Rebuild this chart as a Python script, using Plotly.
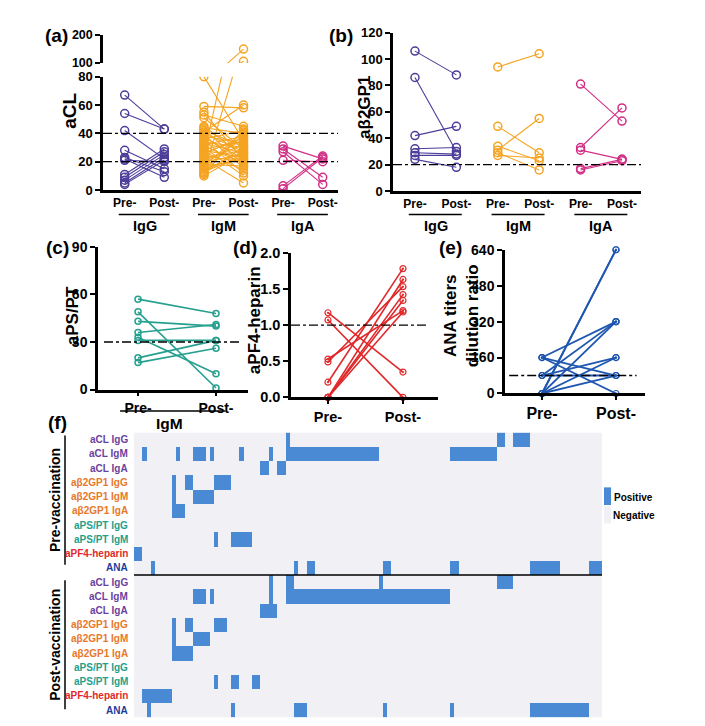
import plotly.graph_objects as go

W, H = 705, 726
FONT = "Liberation Sans, Arial, Helvetica, sans-serif"

# ---------------- data ----------------
groups = ["IgG", "IgM", "IgA"]
prepost = ["Pre-", "Post-"]

# (a) aCL
acl_igg_pre = [67, 54, 42, 28, 23, 22, 21, 11, 9, 7, 5, 4]
acl_igg_post = [43, 43, 22, 15, 13, 9, 20, 29, 27, 25, 23, 21]
acl_igm_pre = [80, 59, 55, 53, 51, 45, 44, 43, 42, 41, 40, 39, 38, 37, 36, 35, 34, 33, 32, 31, 30,
               29, 28, 27, 26, 25, 24, 23, 22, 21, 20, 19, 18, 17, 16, 15, 14, 13, 12, 11, 10, 12]
acl_igm_post = [35, 58, 21, 45, 29, 24, 40, 18, 31, 60, 27, 16, 33, 22, 42, 12, 30, 26, 38, 19, 10,
                34, 23, 14, 37, 149, 20, 28, 5, 32, 25, 36, 17, 41, 22, 39, 27, 24, 30, 43, 26, 106]
acl_iga_pre = [31, 29, 27, 21, 3, 1]
acl_iga_post = [22, 9, 4, 20, 24, 23]
acl_cutoffs = [40, 20]

# (b) aβ2GP1
b2_igg_pre = [106, 86, 42, 32, 29, 27, 24]
b2_igg_post = [88, 30, 49, 33, 28, 27, 18]
b2_igm_pre = [94, 49, 34, 31, 29, 27]
b2_igm_post = [104, 29, 23, 55, 16, 25]
b2_iga_pre = [81, 33, 31, 17, 16]
b2_iga_post = [53, 63, 24, 24, 23]
b2_cutoff = 20

# (c) aPS/PT IgM
ps_pre = [57, 49, 43, 36, 33, 31, 20, 17]
ps_post = [48, 1, 40, 41, 10, 31, 31, 26]
ps_cutoff = 30

# (d) aPF4-heparin
pf4_pre = [1.17, 1.07, 0.53, 0.49, 0.21, 0.0, 0.0, 0.0, 0.0]
pf4_post = [0.35, 0.0, 1.20, 1.53, 1.78, 1.18, 1.63, 1.42, 1.34]
pf4_cutoff = 1.0

# (e) ANA titers
ana_pre = [0, 0, 80, 160, 0, 80, 160, 0, 80, 0, 160]
ana_post = [640, 640, 320, 320, 320, 160, 0, 160, 80, 80, 80]
ana_cutoff = 80

# (f) heatmap: positive column ranges [start, end) per row, 111 patients
n_patients = 111
row_labels = ["aCL IgG", "aCL IgM", "aCL IgA", "aβ2GP1 IgG", "aβ2GP1 IgM", "aβ2GP1 IgA",
              "aPS/PT IgG", "aPS/PT IgM", "aPF4-heparin", "ANA"]
pre_positive = [
    [(36, 37), (86, 88), (90, 94)],
    [(2, 3), (10, 11), (14, 17), (18, 19), (25, 26), (32, 33), (36, 58), (75, 86)],
    [(30, 32), (34, 36)],
    [(9, 10), (12, 14), (19, 23)],
    [(9, 10), (14, 19)],
    [(9, 12)],
    [],
    [(19, 20), (23, 28)],
    [(0, 2)],
    [(4, 5), (38, 39), (41, 43), (59, 61), (75, 77), (94, 101), (108, 111)],
]
post_positive = [
    [(32, 33), (36, 38), (58, 59), (86, 90)],
    [(14, 17), (18, 19), (32, 33), (36, 75)],
    [(30, 34)],
    [(9, 10), (12, 14), (19, 22)],
    [(9, 10), (14, 18)],
    [(9, 14)],
    [],
    [(19, 20), (23, 25), (28, 30)],
    [(2, 9)],
    [(3, 4), (23, 24), (38, 41), (59, 60), (75, 76), (94, 108)],
]

# ---------------- styles ----------------
C_IGG, C_IGM, C_IGA = "#4b3d99", "#f5a422", "#d12f86"
C_PS, C_PF4, C_ANA = "#26a08e", "#e0282a", "#1f57b0"
C_POS, C_NEG = "#4a8ad4", "#f1f0f4"
label_colors = ["#6b3fa0"] * 3 + ["#e8782a"] * 3 + ["#23a08c"] * 2 + ["#e02a2a", "#1c3c9c"]


def fx(px):
    return px / W


def fy(py):
    return 1 - py / H


def pair_xy(x0, pre, post):
    xs, ys = [], []
    for a, b in zip(pre, post):
        xs += [x0, x0 + 1, None]
        ys += [a, b, None]
    return xs, ys


fig = go.Figure()


def add_pairs(x0, pre, post, color, xa, ya, size=8, lw=1.1, sym="circle-open", clip=True, mlw=1.5):
    xs, ys = pair_xy(x0, pre, post)
    fig.add_trace(go.Scatter(
        x=xs, y=ys, mode="lines+markers", xaxis=xa, yaxis=ya,
        line=dict(color=color, width=lw),
        marker=dict(symbol=sym, size=size, color=color, line=dict(width=mlw, color=color)),
        cliponaxis=clip, hoverinfo="skip", showlegend=False))


# (a) lower and upper axis copies (broken axis)
for i, (pre, post, col) in enumerate([(acl_igg_pre, acl_igg_post, C_IGG),
                                      (acl_igm_pre, acl_igm_post, C_IGM),
                                      (acl_iga_pre, acl_iga_post, C_IGA)]):
    add_pairs(2 * i, pre, post, col, "x", "y")
    add_pairs(2 * i, pre, post, col, "x", "y2")

# (b)
for i, (pre, post, col) in enumerate([(b2_igg_pre, b2_igg_post, C_IGG),
                                      (b2_igm_pre, b2_igm_post, C_IGM),
                                      (b2_iga_pre, b2_iga_post, C_IGA)]):
    add_pairs(2 * i, pre, post, col, "x3", "y3")

add_pairs(0, ps_pre, ps_post, C_PS, "x4", "y4", size=6, lw=1.6, clip=False)
add_pairs(0, pf4_pre, pf4_post, C_PF4, "x5", "y5", size=6, lw=1.6, sym="circle-open-dot", clip=False, mlw=1.2)
add_pairs(0, ana_pre, ana_post, C_ANA, "x6", "y6", size=6, lw=1.8, sym="circle-open-dot", clip=False, mlw=1.2)

# (f) heatmap
z = []
for segs in pre_positive + post_positive:
    row = [0] * n_patients
    for s, e in segs:
        for c in range(s, e):
            row[c] = 1
    z.append(row)
fig.add_trace(go.Heatmap(
    z=z, x=list(range(n_patients)), y=list(range(len(z))), xaxis="x7", yaxis="y7",
    colorscale=[[0, C_NEG], [0.5, C_NEG], [0.5, C_POS], [1, C_POS]], zmin=0, zmax=1,
    showscale=False, hoverinfo="skip"))

# ---------------- axes ----------------
def tickf(s):
    return dict(family=FONT, size=s, color="black", weight="bold")


def yax(dom_top, dom_bot, rng, tickvals, size=13, ticktext=None, anchor=None):
    d = dict(domain=[fy(dom_bot), fy(dom_top)], range=rng, tickvals=tickvals,
             showline=True, linewidth=2.5, linecolor="black", ticks="outside", ticklen=5,
             tickwidth=2, tickcolor="black", showgrid=False, zeroline=False,
             tickfont=tickf(size), fixedrange=True)
    if ticktext is not None:
        d["ticktext"] = ticktext
    if anchor:
        d["anchor"] = anchor
    return d


def xax(left, right, rng, ticktext, size, anchor, ticks=""):
    return dict(domain=[fx(left), fx(right)], range=rng, anchor=anchor,
                tickvals=list(range(len(ticktext))), ticktext=ticktext,
                showline=True, linewidth=2.5, linecolor="black", ticks=ticks, ticklen=4,
                tickwidth=2, tickcolor="black", showgrid=False, zeroline=False,
                tickfont=tickf(size), fixedrange=True)


fig.update_layout(
    width=W, height=H, margin=dict(l=0, r=0, t=0, b=0),
    paper_bgcolor="white", plot_bgcolor="white", showlegend=False,
    font=dict(family=FONT, color="black"),
    xaxis=xax(95, 330, [-0.548, 5.386], prepost * 3, 12, "y"),
    yaxis=yax(62, 178, [0, 80], [0, 20, 40, 60, 80], 13, anchor="x"),
    yaxis2=yax(19, 48, [100, 200], [100, 200], 12.5, anchor="x"),
    xaxis3=xax(385, 633, [-0.531, 5.459], prepost * 3, 12, "y3"),
    yaxis3=yax(17, 179, [0, 120], [0, 20, 40, 60, 80, 100, 120], 13, anchor="x3"),
    xaxis4=xax(90, 240, [-0.513, 1.41], prepost, 14, "y4", ticks="outside"),
    yaxis4=yax(236, 382, [0, 90], [0, 30, 60, 90], 14, anchor="x4"),
    xaxis5=xax(283, 430, [-0.493, 1.467], prepost, 14.5, "y5", ticks="outside"),
    yaxis5=yax(242, 390, [0, 2], [0, 0.5, 1.0, 1.5, 2.0], 14.5,
               ticktext=["0.0", "0.5", "1.0", "1.5", "2.0"], anchor="x5"),
    xaxis6=xax(497, 637, [-0.5, 1.392], prepost, 16, "y6", ticks="outside"),
    yaxis6=yax(239, 386, [0, 640], [0, 160, 320, 480, 640], 14, anchor="x6"),
    xaxis7=dict(domain=[fx(126), fx(594)], range=[-0.5, n_patients - 0.5], anchor="y7",
                visible=False, fixedrange=True),
    yaxis7=dict(domain=[fy(717), fy(426)], range=[len(z) - 0.5, -0.5], anchor="x7",
                visible=False, fixedrange=True),
)

shapes = []
ann = []


def text(txt, x, y, size, xref="paper", yref="paper", xanchor="center", angle=0, color="black"):
    ann.append(dict(text=txt, xref=xref, yref=yref, x=x, y=y, xanchor=xanchor, yanchor="middle",
                    textangle=angle, showarrow=False, borderpad=0,
                    font=dict(family=FONT, size=size, color=color, weight="bold")))


# cut-off dash-dot lines
dd = dict(color="black", width=1.3, dash="dashdot")
for v in acl_cutoffs:
    shapes.append(dict(type="line", xref="x domain", yref="y", x0=0, x1=1, y0=v, y1=v, line=dd))
shapes.append(dict(type="line", xref="x3 domain", yref="y3", x0=0, x1=1, y0=b2_cutoff, y1=b2_cutoff, line=dd))
shapes.append(dict(type="line", xref="x4 domain", yref="y4", x0=0.04, x1=0.96, y0=ps_cutoff, y1=ps_cutoff, line=dd))
shapes.append(dict(type="line", xref="x5 domain", yref="y5", x0=0, x1=0.93, y0=pf4_cutoff, y1=pf4_cutoff, line=dd))
shapes.append(dict(type="line", xref="x6 domain", yref="y6", x0=0.03, x1=0.94, y0=ana_cutoff, y1=ana_cutoff, line=dd))

# group underlines and names for (a), (b)
for xa in ["x", "x3"]:
    for i, g in enumerate(groups):
        shapes.append(dict(type="line", xref=xa, yref="paper", x0=2 * i - 0.15, x1=2 * i + 1.13,
                           y0=fy(203), y1=fy(203), line=dict(color="black", width=1.5)))
        text(g, 2 * i + 0.5, fy(215), 14.5, xref=xa)
# (c) group
shapes.append(dict(type="line", xref="x4", yref="paper", x0=-0.23, x1=1.12, y0=fy(404), y1=fy(404),
                   line=dict(color="black", width=1.5)))
text("IgM", 0.4, fy(417), 15.5, xref="x4")

# axis titles
text("aCL", fx(62), fy(97), 19, angle=-90)
text("aβ2GP1", fx(357), fy(93), 17, angle=-90)
text("aPS/PT", fx(64), fy(307), 17, angle=-90)
text("aPF4-heparin", fx(246), fy(311), 17, angle=-90)
text("ANA titers<br>dilution ratio", fx(453), fy(307), 17, angle=-90)

# panel letters
for txt, x, y in [("(a)", 36, 20), ("(b)", 320, 20), ("(c)", 37, 237), ("(d)", 224, 237),
                  ("(e)", 430, 237), ("(f)", 39, 416)]:
    text(txt, fx(x), fy(y), 19, xanchor="left")

# heatmap row labels
for i, lab in enumerate(row_labels * 2):
    text(lab, fx(121), i, 10, yref="y7", xanchor="right", color=label_colors[i % 10])
# divider between pre and post
shapes.append(dict(type="line", xref="x7", yref="y7", x0=-0.5, x1=n_patients - 0.5, y0=9.5, y1=9.5,
                   line=dict(color="black", width=1.5)))
# brackets
for (t, b), txt in [((429, 561), "Pre-vaccination"), ((577, 709), "Post-vaccination")]:
    shapes.append(dict(type="line", xref="paper", yref="paper", x0=fx(57), x1=fx(57), y0=fy(t), y1=fy(b),
                       line=dict(color="black", width=1.5)))
    text(txt, fx(47), fy((t + b) / 2), 14, angle=-90)
# legend
shapes.append(dict(type="rect", xref="paper", yref="paper", x0=fx(596), x1=fx(603), y0=fy(500), y1=fy(482),
                   fillcolor=C_POS, line=dict(width=0)))
shapes.append(dict(type="rect", xref="paper", yref="paper", x0=fx(596), x1=fx(603), y0=fy(519), y1=fy(501),
                   fillcolor=C_NEG, line=dict(width=0)))
text("Positive", fx(605), fy(492), 10, xanchor="left")
text("Negative", fx(604), fy(511), 10, xanchor="left")

fig.update_layout(shapes=shapes, annotations=ann)
fig.write_html("out.html")
